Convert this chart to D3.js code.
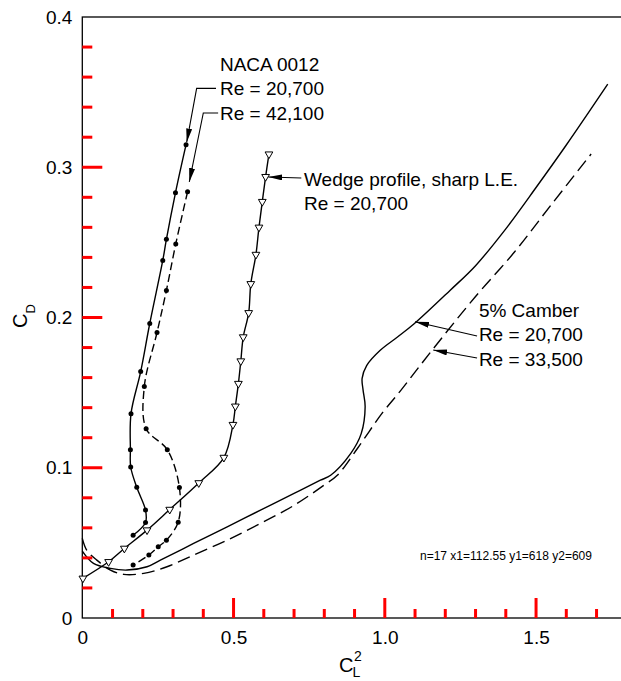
<!DOCTYPE html>
<html>
<head>
<meta charset="utf-8">
<script src="https://cdn.jsdelivr.net/npm/d3@7"></script>
<style>
  body { margin: 0; background: #fff; }
  text { font-family: Arial, "Liberation Sans", Helvetica, sans-serif; fill: #000; }
</style>
</head>
<body>
<svg id="chart"></svg>
<script>
// tick values
const xTickLabels = [0, 0.5, 1.0, 1.5];
const yTickLabels = [0, 0.1, 0.2, 0.3, 0.4];

// NACA 0012, Re = 20,700 (solid, filled dots)
const naca20700 = [
  [0.343, 0.315], [0.308, 0.283], [0.278, 0.252], [0.266, 0.238], [0.223, 0.196],
  [0.193, 0.164], [0.161, 0.136], [0.159, 0.112], [0.160, 0.1005], [0.180, 0.087],
  [0.209, 0.0718], [0.209, 0.0636], [0.168, 0.0551]
];
// NACA 0012, Re = 42,100 (dashed, filled dots)
const naca42100 = [
  [0.348, 0.2837], [0.309, 0.249], [0.278, 0.218], [0.247, 0.190], [0.205, 0.154],
  [0.211, 0.126], [0.281, 0.112], [0.321, 0.0868], [0.317, 0.0638], [0.278, 0.0518],
  [0.251, 0.0474], [0.220, 0.0419], [0.168, 0.0352]
];
// wedge profile, sharp L.E., Re = 20,700 (solid, open triangles)
const wedge20700 = [
  [0.617, 0.3087], [0.606, 0.2937], [0.595, 0.2771], [0.584, 0.260], [0.574, 0.2419],
  [0.557, 0.2224], [0.550, 0.2031], [0.532, 0.187], [0.524, 0.171], [0.516, 0.156],
  [0.506, 0.1409], [0.498, 0.1287], [0.468, 0.1068], [0.385, 0.0899], [0.289, 0.0722],
  [0.214, 0.0585], [0.139, 0.0463], [0.087, 0.0374], [0.002, 0.0264]
];
// 5% camber, Re = 20,700 (solid)
const camber20700 = [
  [0, 0.0445], [0.037, 0.0363], [0.093, 0.033], [0.148, 0.0319], [0.214, 0.0341],
  [0.258, 0.0385], [0.368, 0.0496], [0.479, 0.0607], [0.589, 0.0718], [0.70, 0.0829],
  [0.787, 0.0917], [0.821, 0.095], [0.887, 0.1094], [0.922, 0.1227], [0.935, 0.1406],
  [0.928, 0.152], [0.925, 0.1595], [0.940, 0.168], [0.984, 0.178], [1.042, 0.187],
  [1.097, 0.1958], [1.2155, 0.218], [1.30, 0.2345], [1.40, 0.259], [1.50, 0.2865],
  [1.60, 0.3148], [1.737, 0.3553]
];
// 5% camber, Re = 33,500 (dashed)
const camber33500 = [
  [0, 0.053], [0.015, 0.045], [0.048, 0.0385], [0.093, 0.0319], [0.137, 0.029],
  [0.203, 0.0297], [0.28, 0.0341], [0.368, 0.0419], [0.479, 0.0518], [0.589, 0.0629],
  [0.70, 0.075], [0.799, 0.0884], [0.843, 0.095], [0.91, 0.113], [0.99, 0.136],
  [1.053, 0.1515], [1.155, 0.1779], [1.30, 0.214], [1.428, 0.2434], [1.55, 0.275],
  [1.682, 0.3088]
];

const svg = d3.select('#chart').attr('width', 621).attr('height', 681);

const x = d3.scaleLinear().domain([0, 1.8]).range([82.3, 626.8]);
const y = d3.scaleLinear().domain([0, 0.4]).range([618, 17]);

const fmt = d => d === 0 ? '0' : d3.format('.1f')(d);
const xTicks = d3.range(1, 18).map(i => i / 10);
const yTicks = d3.range(1, 20).map(i => i / 50);
const xLen = v => (Math.round(v * 10) % 5 === 0) ? 20 : 9;
const yLen = v => (Math.round(v * 50) % 5 === 0) ? 20 : 10;

const x0 = x(0), x1 = x(1.8), y0 = y(0), y1 = y(0.4);

// frame
svg.append('rect').attr('x', x0).attr('y', y1)
  .attr('width', x1 - x0).attr('height', y0 - y1)
  .attr('fill', 'none').attr('stroke', '#000').attr('stroke-width', 1.3);

// tick labels
const gx = svg.append('g').attr('transform', `translate(0,${y0})`)
  .call(d3.axisBottom(x).tickValues(xTickLabels).tickSize(0).tickPadding(13).tickFormat(fmt));
const gy = svg.append('g').attr('transform', `translate(${x0},0)`)
  .call(d3.axisLeft(y).tickValues(yTickLabels).tickSize(0).tickPadding(10).tickFormat(fmt));
[gx, gy].forEach(g => {
  g.select('.domain').remove();
  g.attr('font-size', null).attr('font-family', null);
  g.selectAll('text').style('font-size', '19px').attr('fill', '#000');
});

// axis titles
const cd = svg.append('text').attr('transform', 'translate(27,328) rotate(-90)').style('font-size', '20px');
cd.append('tspan').text('C');
cd.append('tspan').attr('dy', 8).style('font-size', '13px').text('D');

svg.append('text').attr('x', 339).attr('y', 672).style('font-size', '20px').text('C');
svg.append('text').attr('x', 352.5).attr('y', 677).style('font-size', '14px').text('L');
svg.append('text').attr('x', 354).attr('y', 661).style('font-size', '14px').text('2');

// curves
const line = d3.line().x(d => x(d[0])).y(d => y(d[1])).curve(d3.curveCatmullRom.alpha(0.5));
const plot = svg.append('g');

function curve(data, dash) {
  plot.append('path').datum(data).attr('d', line)
    .attr('fill', 'none').attr('stroke', '#000').attr('stroke-width', 1.4)
    .attr('stroke-dasharray', dash || null);
}
curve(camber20700);
curve(camber33500, '13,6');
curve(naca20700);
curve(naca42100, '8,4');
curve(wedge20700);

plot.selectAll('circle.dot').data(naca20700.concat(naca42100)).join('circle')
  .attr('class', 'dot')
  .attr('cx', d => x(d[0])).attr('cy', d => y(d[1])).attr('r', 2.5).attr('fill', '#000');

const tri = d3.symbol(d3.symbolTriangle, 26);
plot.selectAll('path.tri').data(wedge20700).join('path').attr('class', 'tri')
  .attr('d', tri)
  .attr('transform', d => `translate(${x(d[0])},${y(d[1])}) rotate(180)`)
  .attr('fill', '#fff').attr('stroke', '#000').attr('stroke-width', 1);

// annotations
const defs = svg.append('defs');
defs.append('marker').attr('id', 'arr').attr('viewBox', '0 0 10 10')
  .attr('refX', 10).attr('refY', 5).attr('markerUnits', 'userSpaceOnUse')
  .attr('markerWidth', 14).attr('markerHeight', 6).attr('orient', 'auto')
  .attr('preserveAspectRatio', 'none')
  .append('path').attr('d', 'M0,0L10,5L0,10Z').attr('fill', '#000');

const leader = d3.line().x(d => x(d[0])).y(d => y(d[1]));
function arrow(pts) {
  svg.append('path').datum(pts).attr('d', leader).attr('fill', 'none')
    .attr('stroke', '#000').attr('stroke-width', 1.1).attr('marker-end', 'url(#arr)');
}
function label(lines, lx, ly) {
  lines.forEach((t, i) => {
    svg.append('text').attr('x', x(lx)).attr('y', y(ly) + i * 24.3)
      .style('font-size', '19px').text(t);
  });
}

label(['NACA 0012', 'Re = 20,700', 'Re = 42,100'], 0.455, 0.3641);
arrow([[0.442, 0.3525], [0.378, 0.3525], [0.345, 0.3165]]);
arrow([[0.449, 0.3361], [0.400, 0.3361], [0.3537, 0.2902]]);

label(['Wedge profile, sharp L.E.', 'Re = 20,700'], 0.733, 0.2875);
arrow([[0.724, 0.2928], [0.615, 0.2935]]);

label(['5% Camber', 'Re = 20,700', 'Re = 33,500'], 1.311, 0.2003);
arrow([[1.305, 0.1877], [1.100, 0.1972]]);
arrow([[1.305, 0.173], [1.160, 0.1784]]);

// inward ticks (debug colour to check they render)
const tk = svg.append('g');
tk.selectAll('line.tb').data(xTicks).join('line').attr('class', 'tb')
  .attr('x1', d => x(d)).attr('x2', d => x(d))
  .attr('y1', y0).attr('y2', d => y0 - xLen(d))
  .attr('stroke', 'red').attr('stroke-width', 3);
tk.selectAll('line.tl').data(yTicks).join('line').attr('class', 'tl')
  .attr('y1', d => y(d)).attr('y2', d => y(d))
  .attr('x1', x0).attr('x2', d => x0 + yLen(d))
  .attr('stroke', 'red').attr('stroke-width', 3);
const n = svg.selectAll('line.tb').size();
const first = svg.select('line.tb');
svg.append('text').attr('x', 420).attr('y', 560).style('font-size', '12px')
  .text(`n=${n} x1=${first.attr('x1')} y1=${first.attr('y1')} y2=${first.attr('y2')}`);
</script>
</body>
</html>
